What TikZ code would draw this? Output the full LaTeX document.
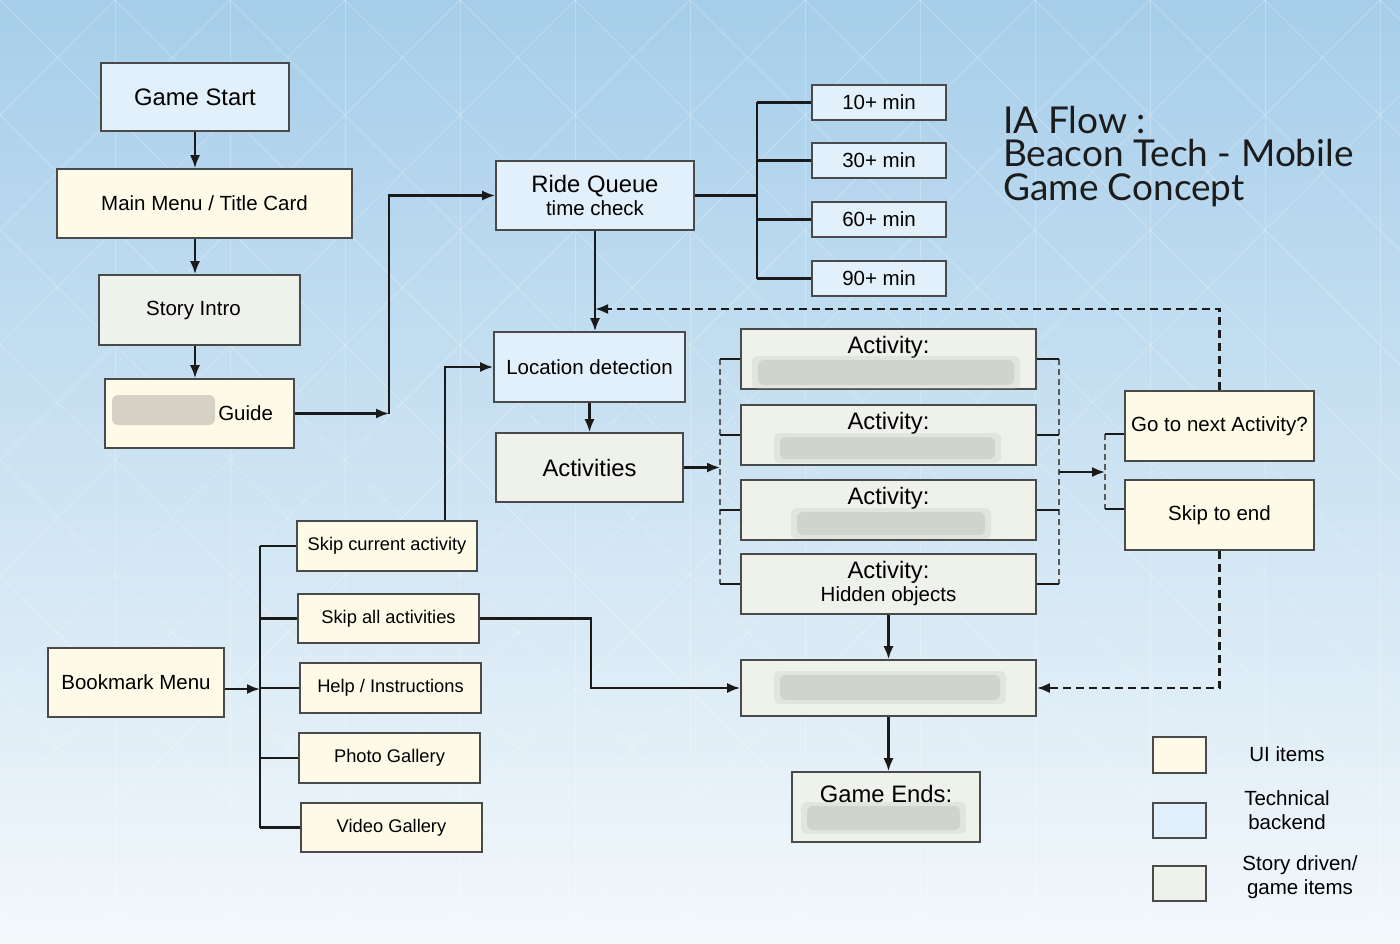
\documentclass[tikz,border=0pt]{standalone}
\usepackage{fontspec}
\setmainfont{Liberation Sans}
\newfontfamily\titlefont{Lato}
\usetikzlibrary{arrows.meta}

\definecolor{bgtop}{HTML}{A6CEEA}
\definecolor{bgmid}{HTML}{D6E9F5}
\definecolor{bgbot}{HTML}{F3F8FB}
\definecolor{boxline}{HTML}{4A4A4A}
\definecolor{linecol}{HTML}{1A1A1A}
\definecolor{uifill}{HTML}{FDFBE8}
\definecolor{techfill}{HTML}{E1F0FA}
\definecolor{storyfill}{HTML}{EEF2EA}
\definecolor{blurcol}{HTML}{C3C9C1}
\definecolor{blurbeige}{HTML}{CFCAC0}
\definecolor{titlecol}{HTML}{1C1C1C}

\newcommand\bigtxt{\fontsize{23.8}{27}\selectfont}
\newcommand\normtxt{\fontsize{20.5}{24}\selectfont}
\newcommand\smalltxt{\fontsize{18.3}{22}\selectfont}

\tikzset{
  box/.style={draw=boxline, line width=1.6pt, inner sep=0pt, align=center, font=\normtxt},
  uibox/.style={box, fill=uifill},
  techbox/.style={box, fill=techfill},
  storybox/.style={box, fill=storyfill},
  conn/.style={line width=2.2pt, draw=linecol},
  arr/.style={conn, -{Latex[length=13pt,width=10pt]}},
  dasharr/.style={arr, dash pattern=on 8pt off 5pt},
  bracket/.style={line width=1.1pt, draw=gray!70!black, dash pattern=on 6pt off 4pt},
  blur/.style={fill=blurcol, rounded corners=6pt},
  bgline/.style={draw=white, line width=1pt, opacity=0.25}
}

\begin{document}
\begin{tikzpicture}[x=1pt,y=-1pt]
  % background
  \shade[top color=bgtop, middle color=bgmid, bottom color=bgbot] (0,0) rectangle (1400,944);
  \useasboundingbox (0,0) rectangle (1400,944);
  \begin{scope}
    \clip (0,0) rectangle (1400,944);
    \foreach \i in {-9,...,13} {
      \draw[bgline] (\i*115,0) -- ++(944,944);
      \draw[bgline] (\i*115,0) -- ++(-944,944);
    }
    \foreach \i in {1,...,12} \draw[bgline] (\i*115,0) -- (\i*115,944);
  \end{scope}

  % title
  \node[anchor=north west, inner sep=0pt, align=left, text=titlecol,
        font=\titlefont\fontsize{37}{33.5}\selectfont] (title) at (1003,106)
        {IA Flow :\\Beacon Tech - Mobile\\Game Concept};

  % left column
  \node[techbox, minimum width=188pt, minimum height=68pt, font=\bigtxt] (start) at (195,97) {Game Start};
  \node[uibox, minimum width=295pt, minimum height=69pt] (menu) at (204.5,203.5) {Main Menu / Title Card};
  \node[storybox, minimum width=201pt, minimum height=70pt] (intro) at (199.5,310) {\hspace*{-12pt}Story Intro};
  \node[uibox, minimum height=69pt, text width=147pt, inner xsep=21pt, align=right] (guide) at (199.5,413.5) {Guide};

  % ride queue
  \node[techbox, minimum width=198pt, minimum height=69pt, font=\bigtxt] (ride) at (595,195.5)
        {Ride Queue\\[-4pt]{\normtxt time check}};
  \node[techbox, minimum width=134pt, minimum height=35pt] (m10) at (879,102.5) {10+ min};
  \node[techbox, minimum width=134pt, minimum height=35pt] (m30) at (879,160.5) {30+ min};
  \node[techbox, minimum width=134pt, minimum height=35pt] (m60) at (879,219.5) {60+ min};
  \node[techbox, minimum width=134pt, minimum height=35pt] (m90) at (879,278.5) {90+ min};

  % detection and activities
  \node[techbox, minimum width=191pt, minimum height=70pt] (loc) at (589.5,367) {Location detection};
  \node[storybox, minimum width=187pt, minimum height=69pt, font=\bigtxt] (acts) at (589.5,467.5) {Activities};
  \node[storybox, minimum width=295pt, minimum height=60pt, font=\bigtxt] (act1) at (888.5,359)
        {Activity:\\[-4pt]{\normtxt\phantom{Hidden objects}}};
  \node[storybox, minimum width=295pt, minimum height=60pt, font=\bigtxt] (act2) at (888.5,435)
        {Activity:\\[-4pt]{\normtxt\phantom{Hidden objects}}};
  \node[storybox, minimum width=295pt, minimum height=60pt, font=\bigtxt] (act3) at (888.5,510)
        {Activity:\\[-4pt]{\normtxt\phantom{Hidden objects}}};
  \node[storybox, minimum width=295pt, minimum height=60pt, font=\bigtxt] (act4) at (888.5,584)
        {Activity:\\[-4pt]{\normtxt Hidden objects}};

  \node[uibox, minimum width=189pt, minimum height=70pt] (nextact) at (1219.5,426) {Go to next Activity?};
  \node[uibox, minimum width=189pt, minimum height=70pt] (skipend) at (1219.5,515) {Skip to end};

  \node[storybox, minimum width=295pt, minimum height=56pt] (final) at (888.5,688) {};
  \node[storybox, minimum width=188pt, minimum height=70pt, font=\bigtxt] (ends) at (886,807)
        {Game Ends:\\[-4pt]{\normtxt\phantom{Hidden objects}}};

  % bookmark menu
  \node[uibox, minimum width=176pt, minimum height=69pt] (bookmark) at (136,682.5) {Bookmark Menu};
  \node[uibox, minimum width=180pt, minimum height=50pt, font=\smalltxt] (skipcur) at (387,546) {Skip current activity};
  \node[uibox, minimum width=181pt, minimum height=49pt, font=\smalltxt] (skipall) at (388.5,618.5) {Skip all activities};
  \node[uibox, minimum width=181pt, minimum height=50pt, font=\smalltxt] (help) at (390.5,688) {Help / Instructions};
  \node[uibox, minimum width=181pt, minimum height=50pt, font=\smalltxt] (photo) at (389.5,758) {Photo Gallery};
  \node[uibox, minimum width=181pt, minimum height=49pt, font=\smalltxt] (video) at (391.5,827.5) {Video Gallery};

  % legend
  \node[uibox, minimum width=53pt, minimum height=36pt] (lui) at (1179.5,755) {};
  \node[techbox, minimum width=53pt, minimum height=35pt] (ltech) at (1179.5,820.5) {};
  \node[storybox, minimum width=53pt, minimum height=35pt] (lstory) at (1179.5,883.5) {};
  \node[font=\normtxt, align=center] (tui) at (1287,754) {UI items};
  \node[font=\normtxt, align=center] (ttech) at (1287,810) {Technical\\backend};
  \node[font=\normtxt, align=center] (tstory) at (1300,877) {Story driven/\\game items};

  % blurred labels
  \foreach \xa/\ya/\xb/\yb in {758/360/1014/385, 780/437/995/459, 797/512/985/535,
                              780/675/1000/700, 807/806/960/830} {
    \fill[blur, opacity=0.3] (\xa-6,\ya-4) rectangle (\xb+6,\yb+4);
    \fill[blur, opacity=0.6] (\xa,\ya) rectangle (\xb,\yb);
  }
  \fill[blur, fill=blurbeige, opacity=0.85] (112,395) rectangle (215,425);

  % connectors
  \draw[arr] (start) -- (start |- menu.north);
  \draw[arr] (menu.south -| start) -- (intro.north -| start);
  \draw[arr] (intro.south -| start) -- (guide.north -| start);

  \coordinate (gj) at (389,413.5);
  \draw[arr] (guide) -- (gj);
  \draw[arr] (gj) |- (ride);

  \coordinate (tq) at (757,195.5);
  \draw[conn] (ride) -- (tq);
  \draw[conn] (tq |- m10) -- (tq |- m90);
  \foreach \m in {m10,m30,m60,m90} \draw[conn] (tq |- \m) -- (\m);

  \draw[arr] (ride.south) -- (ride.south |- loc.north);
  \draw[arr] (loc) -- (acts);

  \coordinate (lb) at (720,467.5);
  \draw[arr] (acts) -- (lb);
  \draw[bracket] (lb |- act1) -- (lb |- act4);
  \foreach \a in {act1,act2,act3,act4} \draw[conn] (\a.west) -- (lb |- \a);

  \coordinate (rb) at (1059,472);
  \coordinate (cb) at (1105,472);
  \draw[bracket] (rb |- act1) -- (rb |- act4);
  \foreach \a in {act1,act2,act3,act4} \draw[conn] (\a.east) -- (rb |- \a);
  \draw[arr] (rb) -- (cb);
  \coordinate (na) at ([yshift=-8pt]nextact.west);
  \coordinate (se) at ([yshift=6pt]skipend.west);
  \draw[bracket] (cb |- na) -- (cb |- se);
  \draw[conn] (na) -- (cb |- na);
  \draw[conn] (se) -- (cb |- se);

  \coordinate (loopin) at (595,309);
  \draw[dasharr] (nextact.north) |- (loopin);
  \draw[dasharr] (skipend.south) |- (final.east);

  \draw[arr] (act4) -- (act4 |- final.north);
  \draw[arr] (final.south) -- (final.south |- ends.north);

  \coordinate (bj) at (260,689);
  \draw[arr] (bookmark.east |- bj) -- (bj);
  \draw[conn] (bj |- skipcur) -- (bj |- video);
  \foreach \b in {skipcur,skipall,help,photo,video} \draw[conn] (bj |- \b) -- (\b);

  \draw[arr] ([xshift=58pt]skipcur.north) |- (loc);
  \draw[arr] (skipall.east) -- ++(111,0) |- (final.west);
\end{tikzpicture}
\end{document}
